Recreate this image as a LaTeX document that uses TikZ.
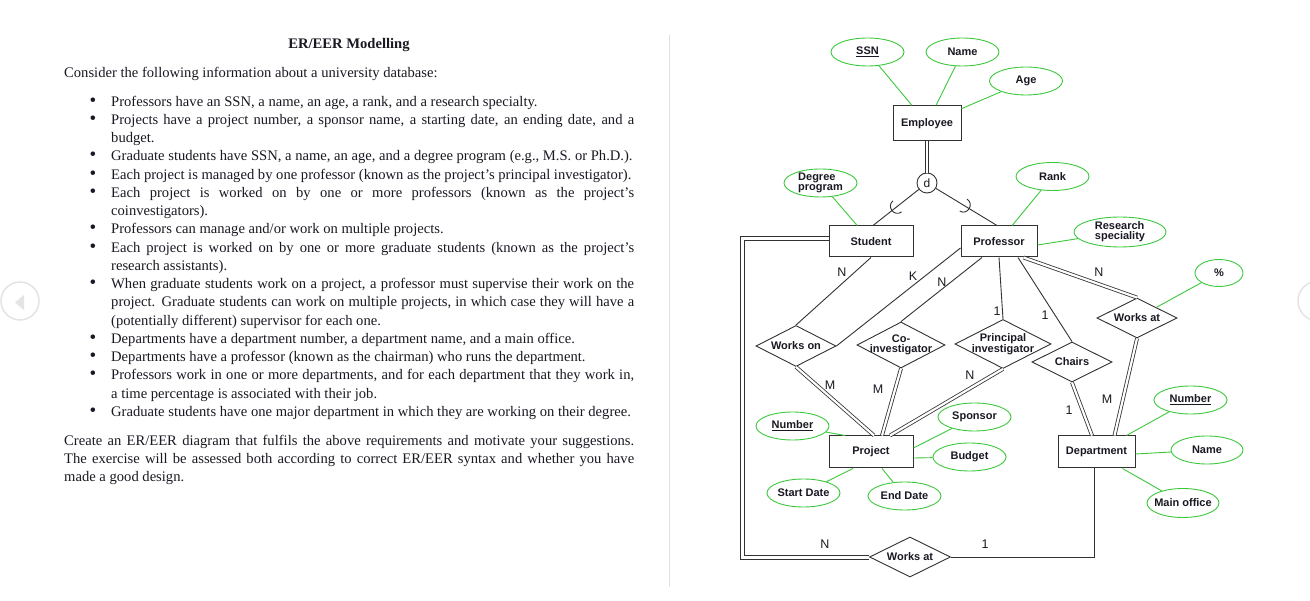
\documentclass[tikz,border=0pt]{standalone}
\usepackage{fontspec}
\setmainfont{Liberation Serif}
\newfontfamily\arialf{Liberation Sans}
\usetikzlibrary{shapes.geometric,calc}
\definecolor{lc}{RGB}{50,50,50}
\definecolor{tc}{RGB}{25,25,35}
\definecolor{gc}{RGB}{60,200,60}
\definecolor{navc}{RGB}{228,228,228}
\definecolor{divc}{RGB}{225,225,225}
\begin{document}
\begin{tikzpicture}[x=1pt,y=-1pt,
 txt/.style={anchor=base west, inner sep=0, text=tc, font=\fontsize{14.6}{18}\selectfont},
 bul/.style={anchor=base, inner sep=0, text=tc, font=\fontsize{19}{18}\selectfont},
 ent/.style={draw=lc, line width=1pt, inner sep=0, text=tc, font=\arialf\bfseries\fontsize{11}{10}\selectfont},
 atxt/.style={inner sep=0, text=tc, align=left, font=\arialf\bfseries\fontsize{11}{10}\selectfont},
 rtxt/.style={inner sep=0, text=tc, align=center, font=\arialf\bfseries\fontsize{11}{10}\selectfont},
 attr/.style={ellipse, draw=gc, line width=0.9pt, inner sep=0, minimum width=73pt, minimum height=28pt, label={[atxt]center:#1}},
 rel/.style={diamond, draw=lc, line width=0.9pt, inner sep=0, label={[rtxt]center:#1}},
 card/.style={inner sep=0, text=tc, font=\arialf\fontsize{12.5}{12}\selectfont},
 ln/.style={draw=lc, line width=0.9pt},
 gl/.style={draw=gc, line width=0.9pt},
 dbl/.style={draw=lc, line width=0.8pt, double=white, double distance=2.2pt},
]
\useasboundingbox (0,0) rectangle (1310,601);
\fill[white] (0,0) rectangle (1310,601);

% navigation circles and divider
\draw[navc, line width=1.5pt] (20,301) circle[radius=19pt];
\fill[navc] (15,302.5) -- (24,295) -- (24,310) -- cycle;
\draw[navc, line width=1.5pt] (1318,301) circle[radius=20pt];
\draw[divc, line width=1pt] (669,35) -- (669,587);

% ---------- left text ----------
\node[txt, anchor=base, font=\bfseries\fontsize{14.6}{18}\selectfont] (title) at (349,49) {ER/EER Modelling};
\node[txt] (t0) at (64,77.5) {Consider the following information about a university database:};
\foreach \yy [count=\i] in {106.3,124.5,161,179.3,197.5,234,252.3,288.8,343.5,361.8,380,416.5}
  \node[bul] (b\i) at (93,\yy) {•};
\node[txt] (t1) at (111,106.3) {Professors have an SSN, a name, an age, a rank, and a research specialty.};
\node[txt] (t2) at (111,124.5) {\makebox[523pt][s]{Projects have a project number, a sponsor name, a starting date, an ending date, and a}};
\node[txt] (t3) at (111,142.8) {budget.};
\node[txt] (t4) at (111,161) {Graduate students have SSN, a name, an age, and a degree program (e.g., M.S. or Ph.D.).};
\node[txt] (t5) at (111,179.3) {Each project is managed by one professor (known as the project’s principal investigator).};
\node[txt] (t6) at (111,197.5) {\makebox[523pt][s]{Each project is worked on by one or more professors (known as the project’s}};
\node[txt] (t7) at (111,215.8) {coinvestigators).};
\node[txt] (t8) at (111,234) {Professors can manage and/or work on multiple projects.};
\node[txt] (t9) at (111,252.3) {\makebox[523pt][s]{Each project is worked on by one or more graduate students (known as the project’s}};
\node[txt] (t10) at (111,270.5) {research assistants).};
\node[txt] (t11) at (111,288.8) {\makebox[523pt][s]{When graduate students work on a project, a professor must supervise their work on the}};
\node[txt] (t12) at (111,307) {\makebox[523pt][s]{project. Graduate students can work on multiple projects, in which case they will have a}};
\node[txt] (t13) at (111,325.3) {(potentially different) supervisor for each one.};
\node[txt] (t14) at (111,343.5) {Departments have a department number, a department name, and a main office.};
\node[txt] (t15) at (111,361.8) {Departments have a professor (known as the chairman) who runs the department.};
\node[txt] (t16) at (111,380) {\makebox[523pt][s]{Professors work in one or more departments, and for each department that they work in,}};
\node[txt] (t17) at (111,398.3) {a time percentage is associated with their job.};
\node[txt] (t18) at (111,416.5) {Graduate students have one major department in which they are working on their degree.};
\node[txt] (t19) at (64,445.5) {\makebox[570pt][s]{Create an ER/EER diagram that fulfils the above requirements and motivate your suggestions.}};
\node[txt] (t20) at (64,463.8) {\makebox[570pt][s]{The exercise will be assessed both according to correct ER/EER syntax and whether you have}};
\node[txt] (t21) at (64,482) {made a good design.};

% ---------- entities ----------
\node[ent, minimum width=68pt, minimum height=35pt] (emp) at (927,123.5) {Employee};
\node[ent, minimum width=84pt, minimum height=31pt] (stu) at (871,241.5) {Student};
\node[ent, minimum width=76pt, minimum height=31pt] (prof) at (999,241.5) {Professor};
\node[ent, minimum width=84pt, minimum height=32pt] (proj) at (871,452) {Project};
\node[ent, minimum width=77pt, minimum height=32pt] (dept) at (1096.5,452) {Department};
\node[circle, draw=lc, line width=0.9pt, minimum size=20pt, inner sep=0, text=tc, font=\arialf\fontsize{12}{12}\selectfont] (dc) at (927,183) {d};

% ---------- attributes ----------
\node[attr={\underline{SSN}}] (ssn) at (867.5,52) {};
\node[attr={Name}] (name) at (962.5,52) {};
\node[attr={Age}] (age) at (1026,81) {};
\node[attr={Degree\\program}] (deg) at (820.5,183) {};
\node[attr={Rank}] (rank) at (1052.5,176.5) {};
\node[attr={Research\\speciality}, minimum width=92pt, minimum height=30pt] (rs) at (1120,232) {};
\node[attr={\%}, minimum width=48pt, minimum height=27pt] (pct) at (1219,273) {};
\node[attr={\underline{Number}}] (pnum) at (792.5,426) {};
\node[attr={Sponsor}] (spon) at (974.5,417) {};
\node[attr={Budget}] (bud) at (969.5,457) {};
\node[attr={Start Date}] (sd) at (803.5,493) {};
\node[attr={End Date}] (ed) at (904.5,496) {};
\node[attr={\underline{Number}}] (dnum) at (1190.5,400) {};
\node[attr={Name}, minimum width=72pt] (dname) at (1207,450) {};
\node[attr={Main office}, minimum width=72pt, minimum height=29pt] (moff) at (1183,503) {};

% ---------- relationships ----------
\node[rel={Works on}, minimum width=80pt, minimum height=41pt] (won) at (796,346) {};
\node[rel={Co-\\investigator}, minimum width=88pt, minimum height=46pt] (coi) at (901,345) {};
\node[rel={Principal\\investigator}, minimum width=96pt, minimum height=49pt] (pi) at (1003,344) {};
\node[rel={Chairs}, minimum width=80pt, minimum height=40pt] (chairs) at (1072,362) {};
\node[rel={Works at}, minimum width=80pt, minimum height=40pt] (wat) at (1137,318) {};
\node[rel={Works at}, minimum width=81pt, minimum height=40pt] (wat2) at (910,557) {};

% ---------- specialization ----------
\draw[dbl] (emp) -- (dc);
\draw[ln] (dc) -- ([xshift=2pt]stu.north);
\draw[ln] (dc) -- ([xshift=-2pt]prof.north);
\coordinate (s1) at ($(dc)!0.55!([xshift=2pt]stu.north)$);
\coordinate (s1a) at ($(s1)!7pt!90:([xshift=2pt]stu.north)$);
\coordinate (s1b) at ($(s1)!7pt!-90:([xshift=2pt]stu.north)$);
\coordinate (s1t) at ($(s1)!9pt!([xshift=2pt]stu.north)$);
\draw[ln] (s1a) .. controls ($(s1a)+(s1t)-(s1)$) and ($(s1b)+(s1t)-(s1)$) .. (s1b);
\coordinate (s2) at ($(dc)!0.52!([xshift=-2pt]prof.north)$);
\coordinate (s2a) at ($(s2)!7pt!90:([xshift=-2pt]prof.north)$);
\coordinate (s2b) at ($(s2)!7pt!-90:([xshift=-2pt]prof.north)$);
\coordinate (s2t) at ($(s2)!9pt!([xshift=-2pt]prof.north)$);
\draw[ln] (s2a) .. controls ($(s2a)+(s2t)-(s2)$) and ($(s2b)+(s2t)-(s2)$) .. (s2b);

% ---------- relationship lines ----------
\draw[ln] (stu.south) -- (won.north);
\draw[ln] ([yshift=-6.5pt]prof.west) -- (won.east);
\draw[ln] ([xshift=-17pt]prof.south) -- (coi.north);
\draw[ln] (prof.south) -- (pi.north);
\draw[ln] ([xshift=19pt]prof.south) -- (chairs.north);
\draw[dbl] ([xshift=-14pt]prof.south east) -- (wat.north);
\draw[dbl] (won.south) -- ([xshift=3pt]proj.north);
\draw[dbl] (coi.south) -- ([xshift=11pt]proj.north);
\draw[dbl] (pi.south) -- ([xshift=19pt]proj.north);
\draw[dbl] (chairs.south) -- ([xshift=-4.5pt]dept.north);
\draw[dbl] (wat.south) -- ([xshift=18pt]dept.north);
\draw[ln] ([xshift=-2.5pt]dept.south) |- (wat2.east);
% double connector Works at -- Student, drawn as two parallel lines
\coordinate (oA) at (740.5,559);
\coordinate (oB) at (740.5,236.5);
\coordinate (iA) at (744.5,555);
\coordinate (iB) at (744.5,240.5);
\draw[ln, line join=miter] ([yshift=-2pt]wat2.west) -- (oA) -- (oB) -- (stu.west |- oB);
\draw[ln, line join=miter] ([yshift=2pt]wat2.west) -- (iA) -- (iB) -- (stu.west |- iB);

% ---------- attribute lines ----------
\draw[gl] (ssn) -- (emp);
\draw[gl] (name) -- (emp);
\draw[gl] (age) -- (emp);
\draw[gl] (deg) -- (stu);
\draw[gl] (rank) -- (prof);
\draw[gl] (rs) -- ([yshift=-3.5pt]prof.east);
\draw[gl] (pct) -- (wat);
\draw[gl] (pnum) -- ([xshift=-26pt]proj.north);
\draw[gl] (spon) -- ([yshift=4pt]proj.east);
\draw[gl] (bud) -- ([yshift=-6pt]proj.east);
\draw[gl] (sd) -- ([xshift=-18pt]proj.south);
\draw[gl] (ed) -- ([xshift=11pt]proj.south);
\draw[gl] (dnum) -- ([xshift=30pt]dept.north);
\draw[gl] (dname) -- ([yshift=-2pt]dept.east);
\draw[gl] (moff) -- ([xshift=26pt]dept.south);

% ---------- cardinalities ----------
\node[card] (k1) at (842,272) {N};
\node[card] (k2) at (913,276) {K};
\node[card] (k3) at (942,282) {N};
\node[card] (k4) at (997,311) {1};
\node[card] (k5) at (1045,315) {1};
\node[card] (k6) at (1099,272) {N};
\node[card] (k7) at (830,385) {M};
\node[card] (k8) at (878,389) {M};
\node[card] (k9) at (970,375) {N};
\node[card] (k10) at (1107,399) {M};
\node[card] (k11) at (1069,410) {1};
\node[card] (k12) at (825,544) {N};
\node[card] (k13) at (985,544) {1};
\end{tikzpicture}
\end{document}
